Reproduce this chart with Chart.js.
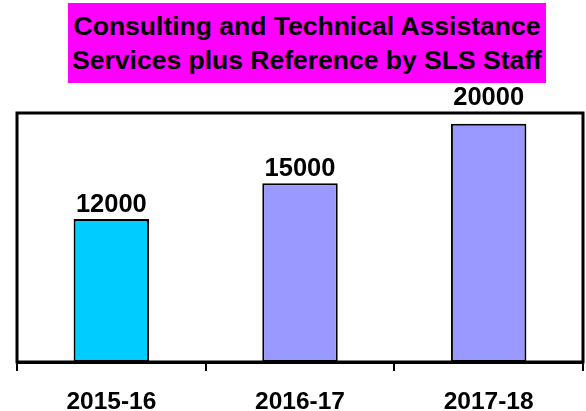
<!DOCTYPE html>
<html>
<head>
<meta charset="utf-8">
<script src="https://cdn.jsdelivr.net/npm/chart.js@4"></script>
<style>
  body { margin: 0; background: #fff; }
  #wrap { position: relative; width: 586px; height: 411px; }
  #titulo {
    position: absolute; left: 68px; top: 3px; width: 478px; height: 80px;
    box-sizing: border-box; padding-top: 6px;
    background: #ff00ff; color: #000;
    font: bold 26.5px "Liberation Sans", Arial, sans-serif;
    line-height: 34px; text-align: center; white-space: nowrap;
  }
  canvas { position: absolute; left: 0; top: 0; }
</style>
</head>
<body>
<div id="wrap">
  <canvas id="grafico" width="586" height="411"></canvas>
  <div id="titulo">Consulting and Technical Assistance<br>Services plus Reference by SLS Staff</div>
</div>
<script>
var anos = ['2015-16', '2016-17', '2017-18'];
var consultas = [12000, 15000, 20000];
var cores = ['#00ccff', '#9999ff', '#9999ff'];

// moldura preta em volta da area do grafico
var moldura = {
    id: 'moldura',
    afterDatasetsDraw: function (chart) {
        var a = chart.chartArea;
        var ctx = chart.ctx;
        ctx.save();
        ctx.strokeStyle = '#000';
        ctx.lineWidth = 3;
        ctx.strokeRect(a.left, a.top, a.right - a.left, a.bottom - a.top);
        ctx.restore();
    }
};

// valores em cima das barras (sobe acima da moldura se nao couber)
var rotulos = {
    id: 'rotulos',
    afterDraw: function (chart) {
        var ctx = chart.ctx;
        var meta = chart.getDatasetMeta(0);
        var topo = chart.chartArea.top;
        ctx.save();
        ctx.fillStyle = '#000';
        ctx.font = 'bold 25.5px "Liberation Sans", Arial, sans-serif';
        ctx.textAlign = 'center';
        ctx.textBaseline = 'alphabetic';
        meta.data.forEach(function (barra, i) {
            var y = barra.y - 7;
            if (y - 20 < topo) y = topo - 8;
            ctx.fillText(String(consultas[i]), barra.x, y);
        });
        ctx.restore();
    }
};

var grafico = new Chart(document.getElementById('grafico'), {
    type: 'bar',
    data: {
        labels: anos,
        datasets: [{
            data: consultas,
            backgroundColor: cores,
            borderColor: '#000',
            borderWidth: 2,
            borderSkipped: false,
            barPercentage: 0.4,
            categoryPercentage: 1
        }]
    },
    options: {
        responsive: false,
        animation: false,
        layout: { padding: { left: 17, right: 3, top: 113, bottom: 0 } },
        plugins: {
            legend: { display: false },
            tooltip: { enabled: false }
        },
        scales: {
            y: { display: false, min: 0, max: 20900 },
            x: {
                afterFit: function (escala) { escala.height = 49; },
                grid: {
                    offset: true,
                    drawOnChartArea: false,
                    drawTicks: true,
                    tickLength: 9,
                    color: '#000',
                    lineWidth: 2
                },
                border: { color: '#000', width: 3 },
                ticks: {
                    color: '#000',
                    padding: 17,
                    font: { family: '"Liberation Sans", Arial, sans-serif', size: 24.5, weight: 'bold' }
                }
            }
        }
    },
    plugins: [moldura, rotulos]
});
</script>
</body>
</html>
